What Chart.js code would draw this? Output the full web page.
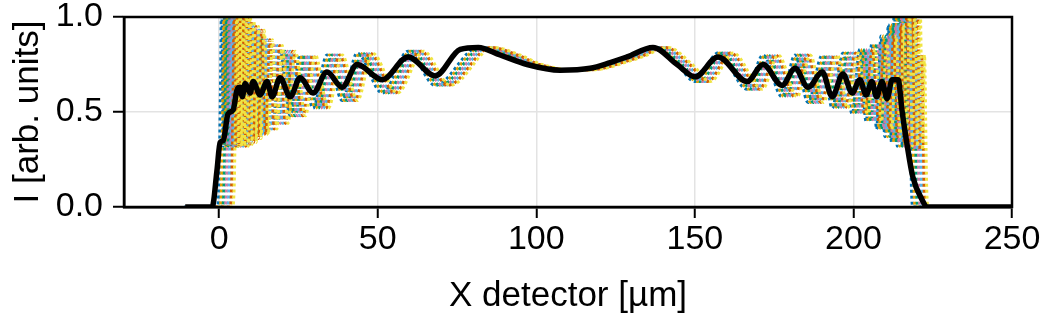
<!DOCTYPE html>
<html>
<head>
<meta charset="utf-8">
<script src="https://cdn.jsdelivr.net/npm/chart.js@4.4.1/dist/chart.umd.min.js"></script>
<style>
  html, body { margin: 0; padding: 0; background: #ffffff; }
  #wrap { width: 1048px; height: 320px; position: relative; }
</style>
</head>
<body>
<div id="wrap"><canvas id="c" width="1048" height="320"></canvas></div>
<script>
// ---- data ----
// averaged profile (black)
const blackX = [-10.7, -2.2, -0.7, 0.3, 1.3, 2.8, 4.4, 5.7, 6.6, 7.3, 8.2, 9.8, 10.7, 12.9, 15.1, 16.7, 19.2, 22.4, 25.5, 29.6, 34.0, 38.8, 43.5, 51.4, 59.6, 68.1, 76.0, 81.7, 88.6, 97.1, 107.5, 117.0, 123.3, 128.6, 136.8, 144.4, 150.1, 157.3, 166.5, 171.5, 177.5, 181.6, 185.7, 190.2, 193.3, 196.7, 199.6, 202.0, 204.0, 205.8, 207.3, 209.0, 210.6, 212.2, 214.1, 215.3, 216.8, 218.7, 221.6, 223.2, 250];
const blackY = [0, 0, 0.19, 0.34, 0.35, 0.49, 0.51, 0.62, 0.63, 0.58, 0.65, 0.60, 0.66, 0.59, 0.66, 0.58, 0.68, 0.58, 0.68, 0.60, 0.71, 0.63, 0.75, 0.67, 0.79, 0.69, 0.83, 0.84, 0.80, 0.75, 0.72, 0.73, 0.76, 0.79, 0.84, 0.75, 0.685, 0.79, 0.66, 0.75, 0.64, 0.73, 0.63, 0.71, 0.58, 0.70, 0.60, 0.67, 0.59, 0.66, 0.58, 0.66, 0.57, 0.67, 0.67, 0.51, 0.34, 0.16, 0.04, 0, 0];

// single-position fringe profile (coloured curves)
const fringeX = [-11, -0.5, 0, 0.4, 0.8, 1.3, 1.8, 2.3, 2.8, 3.3, 3.8, 4.4, 5.0, 5.6, 6.2, 6.9, 7.6, 8.4, 9.4, 10.7, 12.0, 13.4, 15.1, 16.9, 19.2, 22.4, 25.5, 29.6, 34.0, 38.8, 43.5, 51.4, 59.6, 68.1, 81.7, 90.0, 97.0, 107.5, 117.0, 123.0, 128.6, 136.8, 144.4, 150.1, 157.3, 166.5, 171.5, 177.5, 181.6, 185.7, 190.2, 193.3, 196.7, 199.6, 202.0, 204.0, 205.8, 207.3, 208.7, 209.9, 211.0, 212.0, 212.9, 213.8, 214.6, 215.4, 216.2, 217.0, 217.6, 218.3, 218.8, 250];
const fringeY = [0, 0, 0.15, 0.6, 1.1, 0.32, 1.1, 0.32, 1.1, 0.32, 1.1, 0.32, 1.08, 0.33, 0.98, 0.34, 0.95, 0.36, 0.93, 0.38, 0.88, 0.41, 0.85, 0.44, 0.82, 0.48, 0.80, 0.52, 0.80, 0.56, 0.81, 0.60, 0.82, 0.64, 0.84, 0.80, 0.75, 0.72, 0.73, 0.76, 0.79, 0.84, 0.75, 0.66, 0.81, 0.62, 0.80, 0.58, 0.80, 0.55, 0.80, 0.52, 0.81, 0.49, 0.83, 0.45, 0.86, 0.41, 0.90, 0.37, 0.96, 0.34, 1.05, 0.32, 1.1, 0.32, 1.1, 0.30, 0.8, 0.1, 0, 0];

// lateral offsets of the coloured curves [µm]
const shifts = [0.0, 0.8, 1.6, 2.4, 3.2, 4.0, 4.8];

const xTickValues = [0, 50, 100, 150, 200, 250];
const xTickLabels = ["0", "50", "100", "150", "200", "250"];
const yTickValues = [0, 0.5, 1.0];
const yTickLabels = ["0.0", "0.5", "1.0"];

const palette = ['#0072B2', '#E69F00', '#009E73', '#CC79A7', '#56B4E9', '#D55E00', '#F0E442'];

// ---- build datasets (first dataset is drawn on top) ----
const datasets = [];
datasets.push({
  data: blackX.map((x, k) => ({ x: x, y: blackY[k] })),
  borderColor: '#000000',
  borderWidth: 5.5,
  pointRadius: 0,
  fill: false,
  cubicInterpolationMode: 'monotone',
  borderJoinStyle: 'round'
});
for (let i = shifts.length - 1; i >= 0; i--) {
  const s = shifts[i];
  datasets.push({
    data: fringeX.map((x, k) => ({ x: x + s, y: fringeY[k] })),
    borderColor: palette[i % palette.length],
    borderWidth: 3,
    borderDash: [3, 3],
    borderCapStyle: 'butt',
    pointRadius: 0,
    fill: false,
    cubicInterpolationMode: 'monotone'
  });
}

const frame = {
  id: 'frame',
  afterDatasetsDraw(chart) {
    const a = chart.chartArea, ctx = chart.ctx;
    ctx.save();
    ctx.strokeStyle = '#000';
    ctx.lineWidth = 2.5;
    ctx.strokeRect(a.left, a.top, a.right - a.left, a.bottom - a.top);
    ctx.restore();
  }
};

const FONT = "'Liberation Sans', Arial, sans-serif";

new Chart(document.getElementById('c'), {
  type: 'line',
  data: { datasets },
  plugins: [frame],
  options: {
    responsive: false,
    animation: false,
    events: [],
    layout: { padding: { top: 17, right: 36, left: 0, bottom: 0 } },
    plugins: { legend: { display: false }, tooltip: { enabled: false } },
    scales: {
      x: {
        type: 'linear',
        min: -30, max: 250,
        afterBuildTicks: (sc) => { sc.ticks = xTickValues.map(v => ({ value: v })); },
        afterFit: (sc) => { sc.height = 113; sc.paddingLeft = 0; sc.paddingRight = 0; },
        ticks: {
          autoSkip: false, maxRotation: 0,
          callback: (v) => xTickLabels[xTickValues.indexOf(v)],
          color: '#000', font: { family: FONT, size: 34, lineHeight: 1 }, padding: 5
        },
        grid: { color: '#e3e3e3', lineWidth: 1.5, tickColor: '#000', tickLength: 11, tickWidth: 2 },
        border: { display: true, color: '#000', width: 2.5 },
        title: { display: true, text: 'X detector [µm]', color: '#000', font: { family: FONT, size: 35 }, padding: { top: 0, bottom: 3 } }
      },
      y: {
        min: 0, max: 1,
        afterBuildTicks: (sc) => { sc.ticks = yTickValues.map(v => ({ value: v })); },
        afterFit: (sc) => { sc.width = 124; sc.paddingTop = 0; sc.paddingBottom = 0; },
        ticks: {
          callback: (v) => yTickLabels[yTickValues.indexOf(v)],
          color: '#000', font: { family: FONT, size: 34, lineHeight: 1 }, padding: 10
        },
        grid: { color: '#e3e3e3', lineWidth: 1.5, tickColor: '#000', tickLength: 11, tickWidth: 2 },
        border: { display: true, color: '#000', width: 2.5 },
        title: { display: true, text: 'I [arb. units]', color: '#000', font: { family: FONT, size: 35 }, padding: { top: 7, bottom: 0 } }
      }
    }
  }
});
</script>
</body>
</html>
